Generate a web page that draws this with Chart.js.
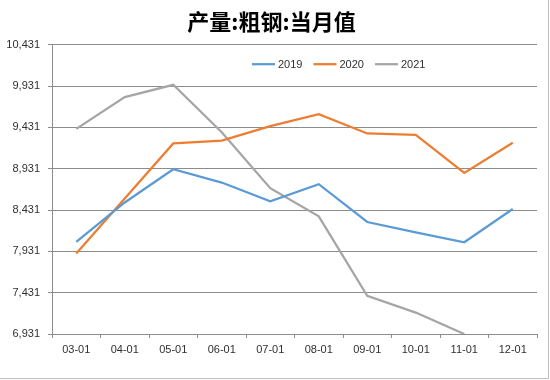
<!DOCTYPE html>
<html>
<head>
<meta charset="utf-8">
<script src="https://cdn.jsdelivr.net/npm/chart.js@4/dist/chart.umd.min.js"></script>
<style>
  html, body { margin: 0; padding: 0; background: #ffffff; }
  #wrap { width: 550px; height: 380px; position: relative; }
</style>
</head>
<body>
<div id="wrap"><canvas id="c" width="550" height="380"></canvas></div>
<script>
const titleText = '产量:粗钢:当月值';
const categories = ['03-01', '04-01', '05-01', '06-01', '07-01', '08-01', '09-01', '10-01', '11-01', '12-01'];
const seriesNames = ['2019', '2020', '2021'];
const values2019 = [8046, 8522, 8924, 8763, 8535, 8743, 8286, 8160, 8041, 8443];
const values2020 = [7905, 8570, 9237, 9270, 9445, 9590, 9357, 9341, 8880, 9244];
const values2021 = [9412, 9797, 9946, 9372, 8695, 8354, 7392, 7190, 6931, null];
const yTicks = [6931, 7431, 7931, 8431, 8931, 9431, 9931, 10431];
const seriesColors = ['#5b9bd5', '#ed7d31', '#a5a5a5'];

const FONT = '"Liberation Sans", Arial, sans-serif';
const GRID = '#8c8c8c';
const TEXT = '#303030';

const legendPlugin = {
  id: 'insideLegend',
  afterDatasetsDraw(chart) {
    const ctx = chart.ctx;
    const a = chart.chartArea;
    let x = a.left + 200;
    const y = a.top + 19.5;
    ctx.save();
    ctx.font = '11px ' + FONT;
    ctx.textBaseline = 'middle';
    ctx.textAlign = 'left';
    chart.data.datasets.forEach(ds => {
      ctx.strokeStyle = ds.borderColor;
      ctx.lineWidth = 2.25;
      ctx.beginPath();
      ctx.moveTo(x, y);
      ctx.lineTo(x + 23, y);
      ctx.stroke();
      ctx.fillStyle = TEXT;
      ctx.fillText(ds.label, x + 26, y + 0.5);
      x += 26 + ctx.measureText(ds.label).width + 11;
    });
    ctx.restore();
  }
};

const frame = {
  id: 'frame',
  beforeDraw(chart) {
    const ctx = chart.ctx;
    ctx.save();
    ctx.fillStyle = '#ffffff';
    ctx.fillRect(0, 0, chart.width, chart.height);
    ctx.restore();
  },
  afterDraw(chart) {
    const ctx = chart.ctx;
    ctx.save();
    ctx.strokeStyle = '#bdbdbd';
    ctx.lineWidth = 1;
    ctx.beginPath();
    ctx.moveTo(548.5, 0);
    ctx.lineTo(548.5, 378.5);
    ctx.lineTo(0, 378.5);
    ctx.stroke();
    ctx.restore();
  }
};

const mk = (i, data) => ({
  label: seriesNames[i],
  data: data,
  borderColor: seriesColors[i],
  backgroundColor: seriesColors[i],
  borderWidth: 2.25,
  pointRadius: 0,
  pointHoverRadius: 0,
  tension: 0,
  fill: false,
  spanGaps: false
});

new Chart(document.getElementById('c'), {
  type: 'line',
  data: {
    labels: categories,
    datasets: [mk(0, values2019), mk(1, values2020), mk(2, values2021)]
  },
  options: {
    responsive: false,
    animation: false,
    devicePixelRatio: 1,
    layout: { padding: { left: 6, right: 13, top: 0, bottom: 0 } },
    plugins: {
      legend: { display: false },
      tooltip: { enabled: false },
      title: {
        display: true,
        text: titleText,
        color: '#000000',
        font: { family: '"Noto Sans CJK SC", sans-serif', size: 22, weight: 'bold', lineHeight: 1.2 },
        padding: { top: 8, bottom: 10.3 }
      }
    },
    scales: {
      x: {
        type: 'category',
        offset: true,
        border: { display: true, color: GRID, width: 1 },
        grid: { offset: true, drawOnChartArea: false, drawTicks: true, tickLength: 4, color: GRID },
        ticks: { color: TEXT, font: { family: FONT, size: 11 }, padding: 5, maxRotation: 0, autoSkip: false },
        afterFit(scale) { scale.height = 46; }
      },
      y: {
        min: 6931,
        max: 10431,
        border: { display: true, color: GRID, width: 1 },
        grid: { color: GRID, drawTicks: true, tickLength: 4, lineWidth: 1 },
        afterBuildTicks(scale) { scale.ticks = yTicks.map(v => ({ value: v })); },
        ticks: {
          color: TEXT,
          font: { family: FONT, size: 11 },
          padding: 8,
          callback: v => Number(v).toLocaleString('en-US')
        },
        afterFit(scale) { scale.width = 46; }
      }
    }
  },
  plugins: [frame, legendPlugin]
});
</script>
</body>
</html>
